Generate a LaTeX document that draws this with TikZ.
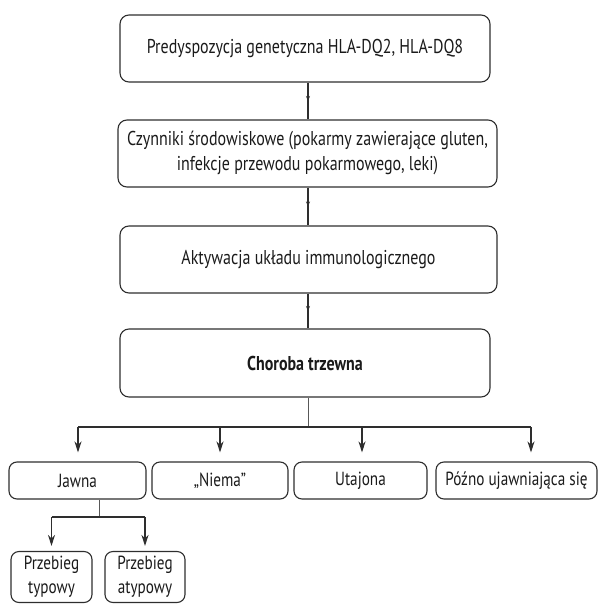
\documentclass[tikz,border=0pt]{standalone}
\usepackage{fontspec}
\setmainfont{PT Sans}[FakeStretch=0.8]
\usetikzlibrary{arrows.meta,decorations.markings}
\definecolor{ink}{HTML}{1A1A1A}
\definecolor{edge}{HTML}{2E2E2E}
\tikzset{
  box/.style={draw=edge, line width=1.1pt, rounded corners=9pt, align=center,
    inner sep=0pt, text=ink, font=\fontsize{20}{25}\selectfont},
  smallbox/.style={box, rounded corners=8pt, font=\fontsize{19}{24}\selectfont},
  midarrow/.style={draw=edge, line width=1.1pt, decoration={markings,
    mark=at position 0.5 with {\arrow{Stealth[length=5pt,width=4pt]}}}, postaction={decorate}},
  arr/.style={draw=edge, line width=1.1pt, -{Stealth[length=11pt,width=7pt]}},
  thin/.style={draw=edge!80, line width=0.8pt}
}
\begin{document}
\begin{tikzpicture}[x=1pt,y=-1pt]
\useasboundingbox (0,0) rectangle (600,604);
% main column
\node[box, minimum width=370pt, minimum height=67pt] (b1) at (305,48.5) {Predyspozycja genetyczna HLA-DQ2, HLA-DQ8};
\node[box, minimum width=379pt, minimum height=67pt] (b2) at (307.5,153.5) {Czynniki środowiskowe (pokarmy zawierające gluten,\\ infekcje przewodu pokarmowego, leki)};
\node[box, minimum width=377pt, minimum height=67pt] (b3) at (308.5,259.5) {Aktywacja układu immunologicznego};
\node[box, minimum width=370pt, minimum height=68pt, font=\fontsize{20}{25}\selectfont\bfseries] (b4) at (305,363) {Choroba trzewna};
% forms
\node[smallbox, minimum width=137pt, minimum height=37pt] (j) at (77.5,480.5) {Jawna};
\node[smallbox, minimum width=136pt, minimum height=37pt] (n) at (220,480.5) {„Niema”};
\node[smallbox, minimum width=133pt, minimum height=37pt] (u) at (360.5,480.5) {Utajona};
\node[smallbox, minimum width=161pt, minimum height=37pt] (p) at (516.5,480.5) {Późno ujawniająca się};
% sub forms
\node[smallbox, minimum width=81pt, minimum height=51pt] (t) at (51.5,577) {Przebieg\\ typowy};
\node[smallbox, minimum width=80pt, minimum height=51pt] (a) at (145,577) {Przebieg\\ atypowy};
% connectors between main boxes
\coordinate (x0) at (308,0);
\path[midarrow] (b1.south -| x0) -- (b2.north -| x0);
\path[midarrow] (b2.south -| x0) -- (b3.north -| x0);
\path[midarrow] (b3.south -| x0) -- (b4.north -| x0);
% distribution line
\coordinate (hy) at (0,427);
\coordinate (pa) at (531,0);
\coordinate (ja) at (78,0);
\coordinate (ua) at (362,0);
\draw[thin] (b4.south -| x0) -- (x0 |- hy);
\draw[edge, line width=1.1pt] (ja |- hy) -- (pa |- hy);
\draw[arr] (ja |- hy) -- ([yshift=9pt]j.north -| ja);
\draw[arr] (n.north |- hy) -- ([yshift=9pt]n.north);
\draw[arr] (ua |- hy) -- ([yshift=9pt]u.north -| ua);
\draw[arr] (pa |- hy) -- ([yshift=9pt]p.north -| pa);
% Jawna split
\coordinate (jx) at (99,0);
\coordinate (jy) at (0,517);
\draw[thin] (j.south -| jx) -- (jx |- jy);
\draw[edge, line width=1.1pt] (t.north |- jy) -- (a.north |- jy);
\draw[arr] (t.north |- jy) -- ([yshift=5pt]t.north);
\draw[arr] (a.north |- jy) -- ([yshift=5pt]a.north);
\end{tikzpicture}
\end{document}
